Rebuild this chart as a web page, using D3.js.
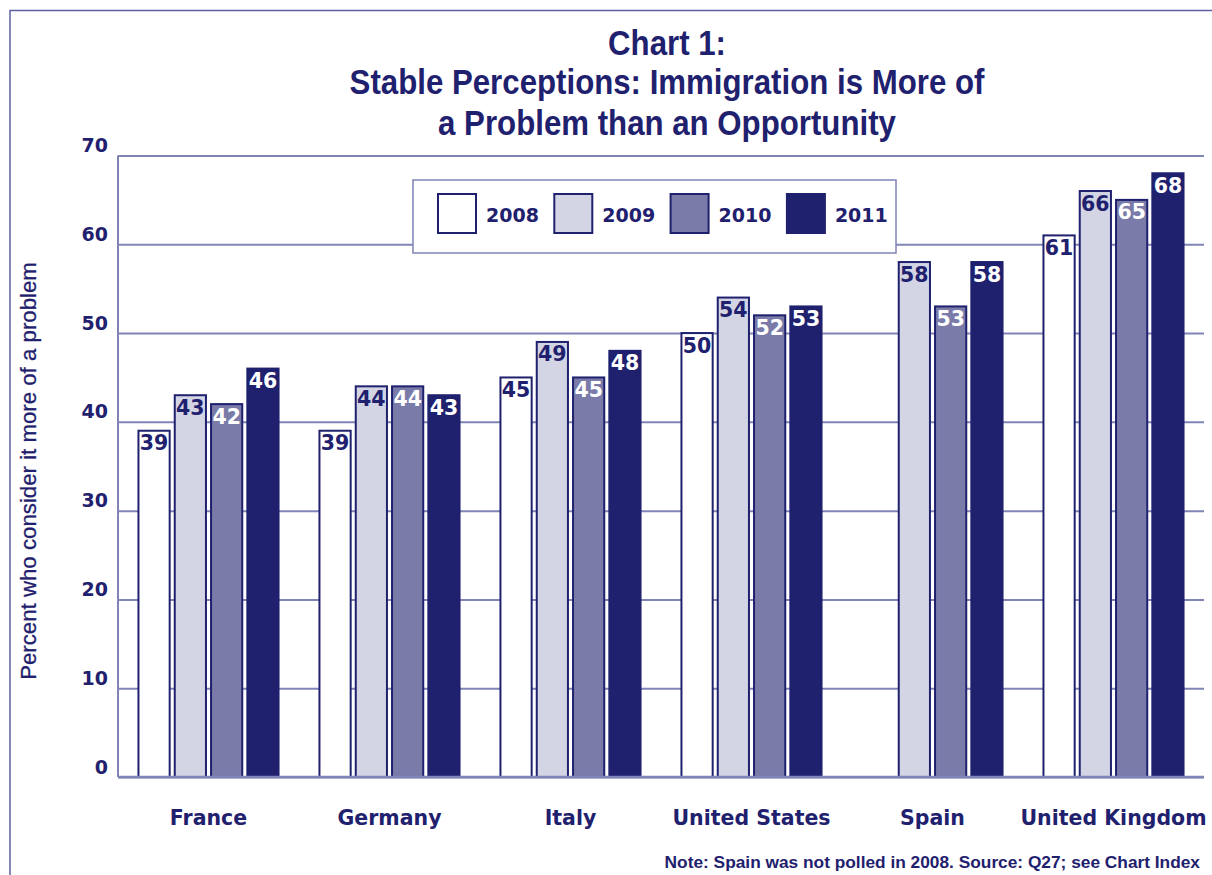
<!DOCTYPE html>
<html>
<head>
<meta charset="utf-8">
<script src="https://cdn.jsdelivr.net/npm/d3@7"></script>
<style>
  body { margin: 0; background: #fff; }
  svg { display: block; }
  .domain { display: none; }
</style>
</head>
<body>
<div id="chart"></div>
<script>
var svgWidth = 1212;
var svgHeight = 875;

// Chart data
var countries = ["France", "Germany", "Italy", "United States", "Spain", "United Kingdom"];
var years = ["2008", "2009", "2010", "2011"];
var values2008 = [39, 39, 45, 50, null, 61];
var values2009 = [43, 44, 49, 54, 58, 66];
var values2010 = [42, 44, 45, 52, 53, 65];
var values2011 = [46, 43, 48, 53, 58, 68];
var yTicks = [0, 10, 20, 30, 40, 50, 60, 70];

var titleLines = ["Chart 1:", "Stable Perceptions: Immigration is More of", "a Problem than an Opportunity"];
var yTitle = "Percent who consider it more of a problem";
var note = "Note: Spain was not polled in 2008. Source: Q27; see Chart Index";

var navy = "#1f216e";
var gridColor = "#8084b6";
var fills = ["#ffffff", "#d3d5e4", "#7a7ba9", "#1f216e"];
var labelColors = [navy, navy, "#ffffff", "#ffffff"];

var numFont = "'DejaVu Sans', sans-serif";
var textFont = "'Liberation Sans', Arial, sans-serif";

var plot = {left: 118, right: 1204, top: 155.5, bottom: 777};

var svg = d3.select("#chart")
  .append("svg")
  .attr("width", svgWidth)
  .attr("height", svgHeight);

// Outer frame (top and left edges)
svg.append("path")
  .attr("d", `M10,${svgHeight} L10,10.5 L${svgWidth},10.5`)
  .attr("fill", "none")
  .attr("stroke", "#5d609e")
  .attr("stroke-width", 1.5);

// Rows of data for the bars
var series = [values2008, values2009, values2010, values2011];
var rows = countries.map(function(c, i) {
  return {country: c, vals: years.map(function(y, j) {
    return {year: y, idx: j, value: series[j][i]};
  })};
});

// Scales
var x0 = d3.scaleBand()
  .domain(countries)
  .range([plot.left, plot.right])
  .paddingInner(0.215)
  .paddingOuter(0.1075);

var x1 = d3.scaleBand()
  .domain(years)
  .range([0, x0.bandwidth()])
  .paddingInner(0.085);

var yScale = d3.scaleLinear()
  .domain([0, 70])
  .range([plot.bottom, plot.top]);

// Gridlines
var grid = svg.append("g")
  .attr("transform", `translate(${plot.left}, 0)`)
  .call(d3.axisRight(yScale).tickValues(yTicks).tickSize(plot.right - plot.left).tickFormat(""));
grid.selectAll(".tick line")
  .attr("stroke", gridColor)
  .attr("stroke-width", 2);

// Left axis line
svg.append("line")
  .attr("x1", plot.left).attr("x2", plot.left)
  .attr("y1", plot.top).attr("y2", plot.bottom)
  .attr("stroke", gridColor)
  .attr("stroke-width", 2);

// Y tick labels (sit just above each gridline)
var yAxis = svg.append("g")
  .attr("transform", `translate(${plot.left}, 0)`)
  .call(d3.axisLeft(yScale).tickValues(yTicks).tickSize(0).tickPadding(10));
yAxis.selectAll("text")
  .attr("dy", "-4")
  .attr("font-family", numFont)
  .attr("font-weight", "bold")
  .attr("font-size", 19)
  .attr("fill", navy);

// Legend
var legend = svg.append("g").attr("transform", "translate(413, 180)");
legend.append("rect")
  .attr("width", 483).attr("height", 73)
  .attr("fill", "#fff")
  .attr("stroke", gridColor)
  .attr("stroke-width", 1.5);

var legendItems = legend.selectAll(".legend-item")
  .data(years)
  .enter()
  .append("g")
  .attr("class", "legend-item")
  .attr("transform", (d, i) => `translate(${25 + i * 116.3}, 14)`);

legendItems.append("rect")
  .attr("width", 38).attr("height", 39)
  .attr("fill", (d, i) => fills[i])
  .attr("stroke", navy)
  .attr("stroke-width", 2);

legendItems.append("text")
  .attr("x", 48)
  .attr("y", 28)
  .attr("font-family", numFont)
  .attr("font-weight", "bold")
  .attr("font-size", 19)
  .attr("fill", navy)
  .text(d => d);

// Bars
var groups = svg.selectAll(".country")
  .data(rows)
  .enter()
  .append("g")
  .attr("class", "country")
  .attr("transform", d => `translate(${x0(d.country)}, 0)`);

var bars = groups.selectAll(".bar")
  .data(d => d.vals.filter(v => v.value != null))
  .enter();

bars.append("rect")
  .attr("class", "bar")
  .attr("x", d => x1(d.year) + 1)
  .attr("width", x1.bandwidth() - 2)
  .attr("y", d => yScale(d.value))
  .attr("height", d => yScale(0) - yScale(d.value))
  .attr("fill", d => fills[d.idx])
  .attr("stroke", navy)
  .attr("stroke-width", 2);

bars.append("text")
  .attr("x", d => x1(d.year) + x1.bandwidth() / 2)
  .attr("y", d => yScale(d.value) + 19.5)
  .attr("text-anchor", "middle")
  .attr("font-family", numFont)
  .attr("font-weight", "bold")
  .attr("font-size", 20.5)
  .attr("fill", d => labelColors[d.idx])
  .text(d => d.value);

// Baseline
svg.append("line")
  .attr("x1", plot.left).attr("x2", plot.right)
  .attr("y1", plot.bottom).attr("y2", plot.bottom)
  .attr("stroke", gridColor)
  .attr("stroke-width", 2.5);

// Category labels
var xAxis = svg.append("g")
  .attr("transform", `translate(0, ${plot.bottom})`)
  .call(d3.axisBottom(x0).tickSize(0).tickPadding(0));
xAxis.selectAll("text")
  .attr("y", 48)
  .attr("dy", 0)
  .attr("font-family", numFont)
  .attr("font-weight", "bold")
  .attr("font-size", 20.5)
  .attr("fill", navy);

// Fit a text element to a target width
function fitWidth(sel, target) {
  var size = +sel.attr("font-size");
  var w = sel.node().getComputedTextLength();
  if (w > 0) sel.attr("font-size", size * target / w);
}

// Title: tall condensed look, squeezed horizontally to the reference width
var titleBase = [55, 94, 135];
var titleGroups = svg.append("g").selectAll("g")
  .data(titleLines)
  .enter()
  .append("g");
var titleText = titleGroups.append("text")
  .attr("text-anchor", "middle")
  .attr("font-family", textFont)
  .attr("font-weight", "bold")
  .attr("font-size", 36)
  .attr("fill", navy)
  .text(d => d);
var sx = 635 / titleText.nodes()[1].getComputedTextLength();
titleGroups.attr("transform", (d, i) => `translate(667, ${titleBase[i]}) scale(${sx}, 1)`);

// Y axis title
var yt = svg.append("text")
  .attr("transform", "translate(36, 471) rotate(-90)")
  .attr("text-anchor", "middle")
  .attr("font-family", textFont)
  .attr("font-size", 19)
  .attr("fill", navy)
  .attr("stroke", navy)
  .attr("stroke-width", 0.3)
  .text(yTitle);
fitWidth(yt, 418);

// Footer note
var nt = svg.append("text")
  .attr("x", 1200)
  .attr("y", 868)
  .attr("text-anchor", "end")
  .attr("font-family", textFont)
  .attr("font-weight", "bold")
  .attr("font-size", 15)
  .attr("fill", navy)
  .text(note);
fitWidth(nt, 536);
</script>
</body>
</html>
